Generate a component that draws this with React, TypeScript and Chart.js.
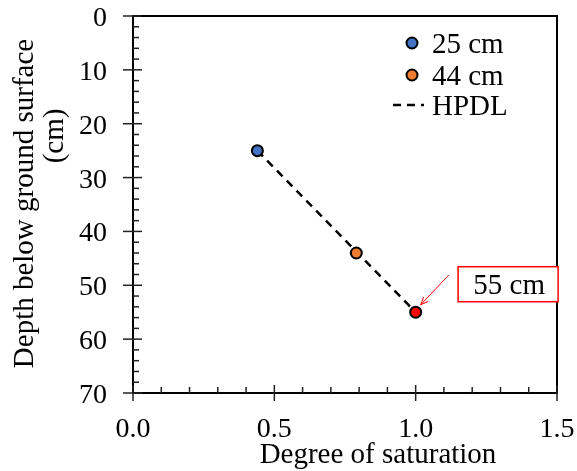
import React, { useEffect, useRef } from "react";
import { Chart, registerables } from "chart.js";

Chart.register(...registerables);

const FONT = "'Liberation Serif', 'Times New Roman', serif";

const seriesNames = ["25 cm", "44 cm"];
const seriesColors = ["#4472C4", "#ED7D31"];
const saturation25 = [0.44];
const depth25 = [25];
const saturation44 = [0.79];
const depth44 = [44];
const saturation55 = [1.0];
const depth55 = [55];
const hpdlSaturation = [0.44, 1.0];
const hpdlDepth = [25, 55];
const xTickValues = [0, 0.5, 1.0, 1.5];
const yTickValues = [0, 10, 20, 30, 40, 50, 60, 70];
const xTitle = "Degree of saturation";
const yTitleLines = ["Depth below ground surface", "(cm)"];
const calloutText = "55 cm";
// callout box centre and arrow (in data units)
const calloutCenter = { x: 1.327, y: 49.8 };
const arrowFrom = { x: 1.117, y: 48.1 };
const arrowTo = { x: 1.018, y: 53.6 };

const decorPlugin = {
  id: "decor",
  afterDatasetsDraw(chart: any) {
    const { ctx, chartArea: a, scales } = chart;
    const xs = scales.x;
    const ys = scales.y;
    ctx.save();
    // frame
    ctx.strokeStyle = "#000";
    ctx.lineWidth = 2;
    ctx.strokeRect(a.left, a.top, a.right - a.left, a.bottom - a.top);
    // ticks
    ctx.lineWidth = 1.5;
    ctx.strokeStyle = "#222";
    for (let i = 0; i <= 15; i++) {
      const v = i / 10;
      const px = xs.getPixelForValue(v);
      const major = i % 5 === 0;
      ctx.beginPath();
      ctx.moveTo(px, a.bottom + (major ? 8 : 0));
      ctx.lineTo(px, a.bottom - (major ? 8 : 6));
      ctx.stroke();
    }
    for (let v = 0; v <= 70; v += 2) {
      const py = ys.getPixelForValue(v);
      const major = v % 10 === 0;
      ctx.beginPath();
      ctx.moveTo(a.left - (major ? 10 : 0), py);
      ctx.lineTo(a.left + (major ? 9 : 6), py);
      ctx.stroke();
    }
    // tick labels from the scales
    ctx.fillStyle = "#000";
    ctx.font = `28px ${FONT}`;
    ctx.textBaseline = "alphabetic";
    ctx.textAlign = "center";
    xs.ticks.forEach((t: any) => {
      ctx.fillText(Number(t.value).toFixed(1), xs.getPixelForValue(t.value), a.bottom + 44);
    });
    ctx.textAlign = "right";
    ys.ticks.forEach((t: any) => {
      ctx.fillText(String(t.value), a.left - 26, ys.getPixelForValue(t.value) + 10);
    });
    // callout arrow
    const ax0 = xs.getPixelForValue(arrowFrom.x);
    const ay0 = ys.getPixelForValue(arrowFrom.y);
    const ax1 = xs.getPixelForValue(arrowTo.x);
    const ay1 = ys.getPixelForValue(arrowTo.y);
    ctx.strokeStyle = "#FF0000";
    ctx.lineWidth = 1;
    ctx.beginPath();
    ctx.moveTo(ax0, ay0);
    ctx.lineTo(ax1, ay1);
    ctx.stroke();
    const ang = Math.atan2(ay1 - ay0, ax1 - ax0);
    ctx.beginPath();
    ctx.moveTo(ax1, ay1);
    ctx.lineTo(ax1 - 8 * Math.cos(ang - 0.4), ay1 - 8 * Math.sin(ang - 0.4));
    ctx.moveTo(ax1, ay1);
    ctx.lineTo(ax1 - 8 * Math.cos(ang + 0.4), ay1 - 8 * Math.sin(ang + 0.4));
    ctx.stroke();
    // callout box
    const cx = xs.getPixelForValue(calloutCenter.x);
    const cy = ys.getPixelForValue(calloutCenter.y);
    const bw = 100;
    const bh = 35;
    ctx.fillStyle = "#fff";
    ctx.fillRect(cx - bw / 2, cy - bh / 2, bw, bh);
    ctx.strokeStyle = "#FF0000";
    ctx.lineWidth = 1.5;
    ctx.strokeRect(cx - bw / 2, cy - bh / 2, bw, bh);
    ctx.fillStyle = "#000";
    ctx.font = `29px ${FONT}`;
    ctx.textAlign = "center";
    ctx.fillText(calloutText, cx + 1, cy + 10);
    // legend
    const lx = 412;
    const rows = [43, 75];
    ctx.textAlign = "left";
    seriesNames.forEach((n, i) => {
      ctx.beginPath();
      ctx.arc(lx, rows[i], 5.5, 0, Math.PI * 2);
      ctx.fillStyle = seriesColors[i];
      ctx.fill();
      ctx.lineWidth = 2;
      ctx.strokeStyle = "#000";
      ctx.stroke();
      ctx.fillStyle = "#000";
      ctx.fillText(n, 432, rows[i] + 10);
    });
    ctx.beginPath();
    ctx.setLineDash([8, 6]);
    ctx.lineWidth = 2.5;
    ctx.strokeStyle = "#000";
    ctx.moveTo(393, 105);
    ctx.lineTo(424, 105);
    ctx.stroke();
    ctx.setLineDash([]);
    ctx.fillText("HPDL", 432, 115);
    // axis titles
    ctx.textAlign = "center";
    ctx.fillText(xTitle, 378, 463);
    ctx.save();
    ctx.translate(33, 203.5);
    ctx.rotate(-Math.PI / 2);
    ctx.fillText(yTitleLines[0], 0, 0);
    ctx.restore();
    ctx.save();
    ctx.translate(63, 136);
    ctx.rotate(-Math.PI / 2);
    ctx.fillText(yTitleLines[1], 0, 0);
    ctx.restore();
    ctx.restore();
  },
};

export default function App() {
  const ref = useRef<HTMLCanvasElement>(null);
  useEffect(() => {
    if (!ref.current) return;
    const pts = (xs: number[], ys: number[]) => xs.map((x, i) => ({ x, y: ys[i] }));
    const marker = (color: string) => ({
      pointBackgroundColor: color,
      pointBorderColor: "#000",
      pointBorderWidth: 2,
      pointRadius: 5.5,
      showLine: false,
    });
    const chart = new Chart(ref.current, {
      type: "scatter",
      data: {
        datasets: [
          { label: seriesNames[0], data: pts(saturation25, depth25), ...marker(seriesColors[0]) },
          { label: seriesNames[1], data: pts(saturation44, depth44), ...marker(seriesColors[1]) },
          { label: "55 cm", data: pts(saturation55, depth55), ...marker("#FF0000") },
          {
            label: "HPDL",
            data: pts(hpdlSaturation, hpdlDepth),
            showLine: true,
            borderColor: "#000",
            borderWidth: 2.5,
            borderDash: [8, 6],
            pointRadius: 0,
          },
        ],
      },
      options: {
        animation: false,
        responsive: false,
        devicePixelRatio: 1,
        layout: { padding: { top: 16, right: 20, left: 0, bottom: 0 } },
        plugins: { legend: { display: false }, tooltip: { enabled: false } },
        scales: {
          x: {
            type: "linear",
            min: 0,
            max: 1.5,
            afterBuildTicks: (s: any) => {
              s.ticks = xTickValues.map((v) => ({ value: v }));
            },
            afterFit: (s: any) => {
              s.height = 78;
            },
            ticks: { display: false },
            grid: { display: false, drawTicks: false },
            border: { display: false },
          },
          y: {
            type: "linear",
            min: 0,
            max: 70,
            reverse: true,
            afterBuildTicks: (s: any) => {
              s.ticks = yTickValues.map((v) => ({ value: v }));
            },
            afterFit: (s: any) => {
              s.width = 133;
            },
            ticks: { display: false },
            grid: { display: false, drawTicks: false },
            border: { display: false },
          },
        },
      },
      plugins: [decorPlugin],
    });
    return () => chart.destroy();
  }, []);
  return (
    <div style={{ position: "fixed", left: 0, top: 0, width: 577, height: 471, background: "#fff" }}>
      <canvas ref={ref} width={577} height={471} style={{ width: 577, height: 471 }} />
    </div>
  );
}
